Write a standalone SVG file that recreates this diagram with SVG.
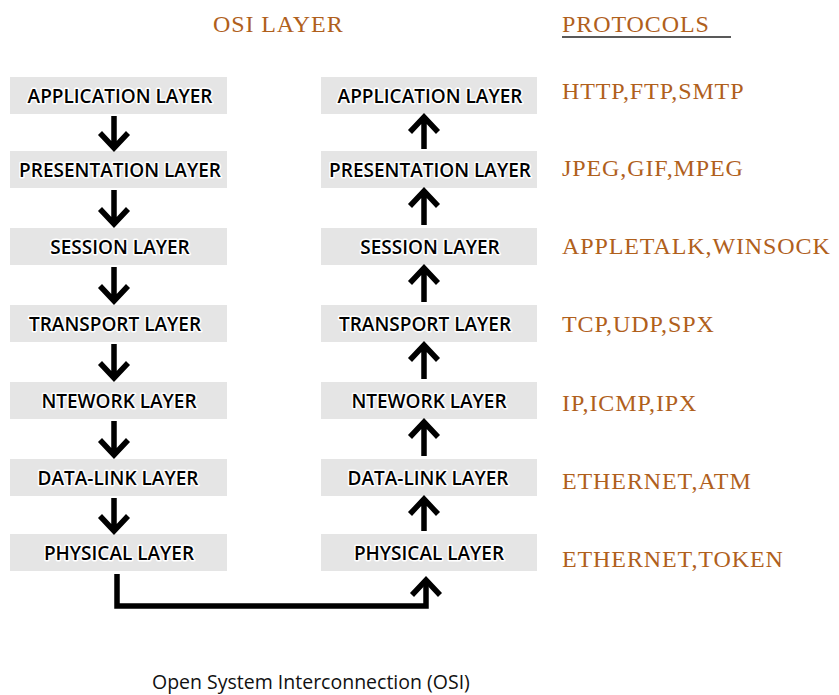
<svg xmlns="http://www.w3.org/2000/svg" width="839" height="695" viewBox="0 0 839 695">
  <style>
    .box { fill: #e5e5e5; }
    .lbl { font-family: "Open Sans", "Noto Sans", sans-serif; font-weight: 600; font-size: 19px; fill: #000; text-anchor: middle; stroke: #fff; stroke-width: 3; stroke-linejoin: round; paint-order: stroke; }
    .proto { font-family: "Liberation Serif", "Times New Roman", serif; font-size: 24px; fill: #b0601c; letter-spacing: 0.9px; }
    .head { font-family: "Liberation Serif", "Times New Roman", serif; font-size: 24px; fill: #b0601c; letter-spacing: 0.9px; }
    .arrow { fill: none; stroke: #000; stroke-width: 5.5; stroke-linejoin: miter; stroke-linecap: butt; }
    .caption { font-family: "Open Sans", "Noto Sans", sans-serif; font-size: 19.5px; fill: #111; }
  </style>

  <!-- headings -->
  <text class="head" x="213" y="32">OSI LAYER</text>
  <text class="head" x="562" y="32">PROTOCOLS</text>
  <line x1="562" y1="37" x2="731" y2="37" stroke="#222" stroke-width="1.6"/>

  <!-- sending stack (left) -->
  <g id="left-application"><rect class="box" x="10" y="77" width="217" height="37"/><text class="lbl" x="120" y="103">APPLICATION LAYER</text></g>
  <g id="left-presentation"><rect class="box" x="10" y="151" width="217" height="37"/><text class="lbl" x="120" y="177">PRESENTATION LAYER</text></g>
  <g id="left-session"><rect class="box" x="10" y="228" width="217" height="37"/><text class="lbl" x="120" y="254">SESSION LAYER</text></g>
  <g id="left-transport"><rect class="box" x="10" y="305" width="217" height="37"/><text class="lbl" x="115" y="331">TRANSPORT LAYER</text></g>
  <g id="left-network"><rect class="box" x="10" y="382" width="217" height="37"/><text class="lbl" x="119" y="408">NTEWORK LAYER</text></g>
  <g id="left-datalink"><rect class="box" x="10" y="459" width="217" height="37"/><text class="lbl" x="118" y="485">DATA-LINK LAYER</text></g>
  <g id="left-physical"><rect class="box" x="10" y="534" width="217" height="37"/><text class="lbl" x="119" y="560">PHYSICAL LAYER</text></g>

  <!-- receiving stack (right) -->
  <g id="right-application"><rect class="box" x="321" y="77" width="216" height="37"/><text class="lbl" x="430" y="103">APPLICATION LAYER</text></g>
  <g id="right-presentation"><rect class="box" x="321" y="151" width="216" height="37"/><text class="lbl" x="430" y="177">PRESENTATION LAYER</text></g>
  <g id="right-session"><rect class="box" x="321" y="228" width="216" height="37"/><text class="lbl" x="430" y="254">SESSION LAYER</text></g>
  <g id="right-transport"><rect class="box" x="321" y="305" width="216" height="37"/><text class="lbl" x="425" y="331">TRANSPORT LAYER</text></g>
  <g id="right-network"><rect class="box" x="321" y="382" width="216" height="37"/><text class="lbl" x="429" y="408">NTEWORK LAYER</text></g>
  <g id="right-datalink"><rect class="box" x="321" y="459" width="216" height="37"/><text class="lbl" x="428" y="485">DATA-LINK LAYER</text></g>
  <g id="right-physical"><rect class="box" x="321" y="534" width="216" height="37"/><text class="lbl" x="429" y="560">PHYSICAL LAYER</text></g>

  <!-- protocols per layer -->
  <g id="protocols">
    <text class="proto" x="562" y="99">HTTP,FTP,SMTP</text>
    <text class="proto" x="562" y="176">JPEG,GIF,MPEG</text>
    <text class="proto" x="562" y="254">APPLETALK,WINSOCK</text>
    <text class="proto" x="562" y="332">TCP,UDP,SPX</text>
    <text class="proto" x="562" y="411">IP,ICMP,IPX</text>
    <text class="proto" x="562" y="489">ETHERNET,ATM</text>
    <text class="proto" x="562" y="567">ETHERNET,TOKEN</text>
  </g>

  <!-- connectors -->
  <g id="connectors">
    <!-- down arrows, left stack -->
    <path class="arrow" d="M114 116V148M100 133L114 148L128 133"/>
    <path class="arrow" d="M114 190V224M100 209L114 224L128 209"/>
    <path class="arrow" d="M114 267V301M100 286L114 301L128 286"/>
    <path class="arrow" d="M114 344V378M100 363L114 378L128 363"/>
    <path class="arrow" d="M114 421V455M100 440L114 455L128 440"/>
    <path class="arrow" d="M114 498V531M100 516L114 531L128 516"/>
    <!-- up arrows, right stack -->
    <path class="arrow" d="M424 149V117M410 132L424 117L438 132"/>
    <path class="arrow" d="M424 225V191M410 206L424 191L438 206"/>
    <path class="arrow" d="M424 302V268M410 283L424 268L438 283"/>
    <path class="arrow" d="M424 379V345M410 360L424 345L438 360"/>
    <path class="arrow" d="M424 456V422M410 437L424 422L438 437"/>
    <path class="arrow" d="M424 531V499M410 514L424 499L438 514"/>
    <!-- link between the physical layers -->
    <path class="arrow" d="M117 574V606H426V580" stroke-linejoin="round"/>
    <path class="arrow" d="M412 595L426 580L440 595"/>
  </g>

  <text class="caption" x="152" y="689">Open System Interconnection (OSI)</text>
</svg>
